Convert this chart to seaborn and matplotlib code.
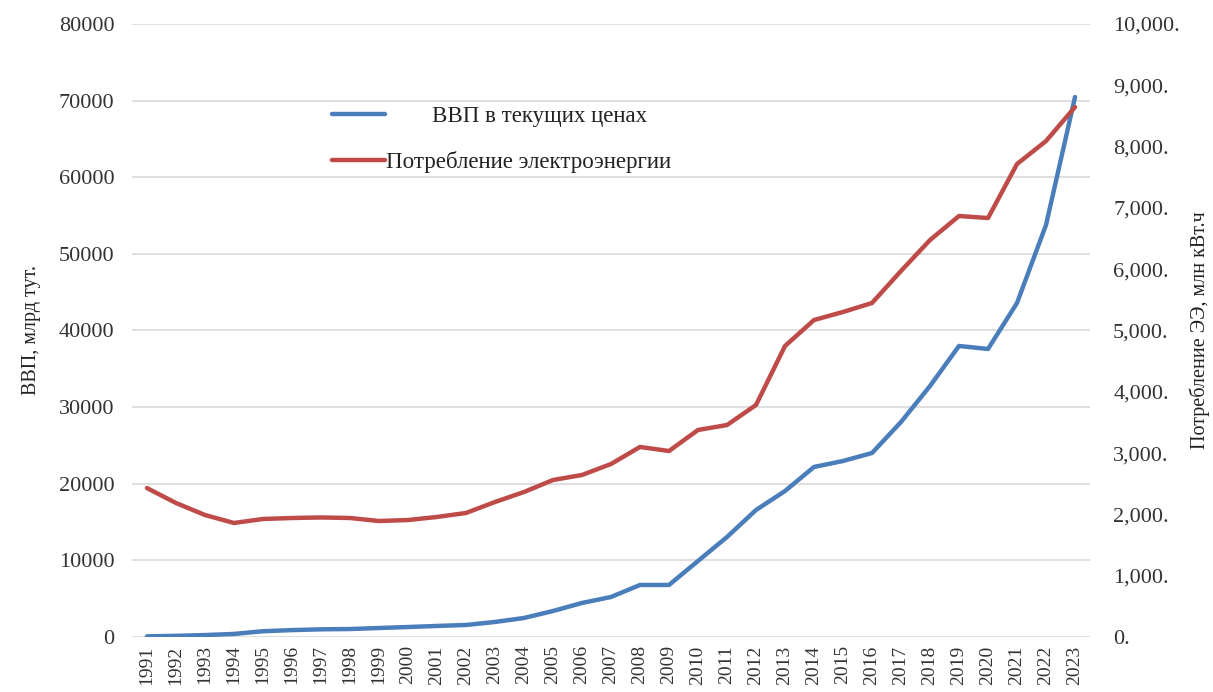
import numpy as np
import pandas as pd
import seaborn as sns
from matplotlib import pyplot as plt

years = list(range(1991, 2024))

# ВВП, млрд тенге
gdp = [80, 150, 250, 400, 750, 900, 1000, 1040, 1170, 1300, 1440, 1570,
       1960, 2480, 3390, 4440, 5220, 6790, 6790, 9920, 13050, 16570, 19050,
       22190, 22970, 24010, 28060, 32760, 37980, 37590, 43590, 53770, 70470]

# Потребление электроэнергии, млн кВт.ч
power = [2430, 2186, 1990, 1860, 1925, 1941, 1950, 1941, 1892, 1908, 1958, 2023,
         2202, 2365, 2561, 2643, 2822, 3100, 3034, 3377, 3458, 3785, 4747,
         5171, 5302, 5449, 5971, 6476, 6868, 6835, 7716, 8091, 8646]

gdp_label = "        ВВП в текущих ценах"
power_label = "Потребление электроэнергии"

df = pd.DataFrame({"year": years, "gdp": gdp, "power": power})

sns.set_style("white")
plt.rcParams['font.family'] = ['Liberation Serif', 'DejaVu Serif']
plt.rcParams['font.size'] = 13

blue = "#4a7ebb"
red = "#be4b48"
text_col = "#333333"

fig = plt.figure(figsize=(12.13, 6.92), dpi=100)
ax = fig.add_axes([0.1092, 0.0795, 0.789, 0.8858])
ax2 = ax.twinx()

sns.lineplot(data=df, x="year", y="gdp", ax=ax, color=blue, linewidth=3.2,
             label=gdp_label, legend=False)
sns.lineplot(data=df, x="year", y="power", ax=ax2, color=red, linewidth=3.2,
             label=power_label, legend=False)

ax.set_xlim(1990.5, 2023.5)
ax.set_ylim(0, 80000)
ax2.set_ylim(0, 10000)
ax.set_xticks(years)
ax.set_xticklabels([str(y) for y in years], rotation=90, fontsize=14, color=text_col)
ax.set_yticks(np.arange(0, 80001, 10000))
ax.set_yticklabels([str(v) for v in range(0, 80001, 10000)], fontsize=16, color=text_col)
ax2.set_yticks(np.arange(0, 10001, 1000))
ax2.set_yticklabels(["{:,}.".format(v) if v else "0." for v in range(0, 10001, 1000)],
                    fontsize=16, color=text_col)

ax.grid(axis='y', color='#d9d9d9', linewidth=1.2)
ax.set_axisbelow(True)
for a in (ax, ax2):
    for s in a.spines.values():
        s.set_visible(False)
    a.tick_params(length=0)
ax.tick_params(axis='y', pad=13)
ax.tick_params(axis='x', pad=6)
ax2.tick_params(axis='y', pad=17)

ax.set_xlabel("")
ax.set_ylabel("ВВП, млрд тут.", fontsize=14.5, color="#222222", labelpad=13)
ax2.set_ylabel("Потребление ЭЭ, млн кВт.ч", fontsize=14.5, color="#222222",
               rotation=90, labelpad=7)

h1, l1 = ax.get_legend_handles_labels()
h2, l2 = ax2.get_legend_handles_labels()
leg = fig.legend(h1 + h2, l1 + l2, loc='upper left', bbox_to_anchor=(0.2737, 0.847),
                 frameon=False, handlelength=2.3, handletextpad=0.05,
                 labelspacing=1.05, fontsize=16.5, borderpad=0, borderaxespad=0)
for t in leg.get_texts():
    t.set_color("#222222")

fig.savefig("out.png", dpi=100)
